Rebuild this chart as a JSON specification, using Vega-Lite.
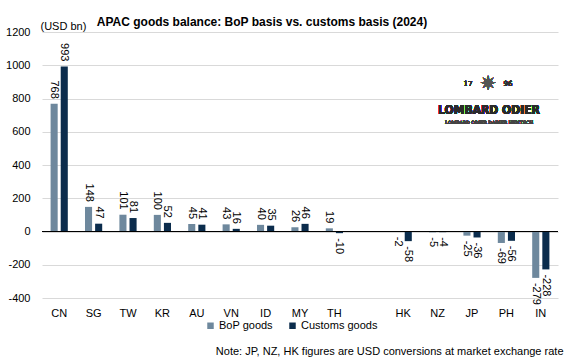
{
  "$schema": "https://vega.github.io/schema/vega-lite/v6.json",
  "width": 516,
  "height": 266,
  "autosize": {"type": "none"},
  "padding": {"left": 42, "top": 32, "right": 10, "bottom": 66},
  "background": "white",
  "title": {
    "text": "APAC goods balance: BoP basis vs. customs basis (2024)",
    "font": "Liberation Sans",
    "fontSize": 12,
    "fontWeight": "bold",
    "color": "black",
    "anchor": "middle",
    "frame": "group",
    "dx": -38,
    "offset": -18,
    "baseline": "alphabetic"
  },
  "config": {
    "view": {"stroke": null},
    "font": "Liberation Sans",
    "axis": {"labelColor": "black", "titleColor": "black", "labelFont": "Liberation Sans", "titleFont": "Liberation Sans"},
    "axisY": {"labelOverlap": false, "labelSeparation": 0},
    "legend": {"labelColor": "black", "labelFont": "Liberation Sans"}
  },
  "data": {
    "values": [
      {"country": "CN", "series": "BoP goods", "value": 768},
      {"country": "CN", "series": "Customs goods", "value": 993},
      {"country": "SG", "series": "BoP goods", "value": 148},
      {"country": "SG", "series": "Customs goods", "value": 47},
      {"country": "TW", "series": "BoP goods", "value": 101},
      {"country": "TW", "series": "Customs goods", "value": 81},
      {"country": "KR", "series": "BoP goods", "value": 100},
      {"country": "KR", "series": "Customs goods", "value": 52},
      {"country": "AU", "series": "BoP goods", "value": 45},
      {"country": "AU", "series": "Customs goods", "value": 41},
      {"country": "VN", "series": "BoP goods", "value": 43},
      {"country": "VN", "series": "Customs goods", "value": 16},
      {"country": "ID", "series": "BoP goods", "value": 40},
      {"country": "ID", "series": "Customs goods", "value": 35},
      {"country": "MY", "series": "BoP goods", "value": 26},
      {"country": "MY", "series": "Customs goods", "value": 46},
      {"country": "TH", "series": "BoP goods", "value": 19},
      {"country": "TH", "series": "Customs goods", "value": -10},
      {"country": "HK", "series": "BoP goods", "value": -2},
      {"country": "HK", "series": "Customs goods", "value": -58},
      {"country": "NZ", "series": "BoP goods", "value": -5},
      {"country": "NZ", "series": "Customs goods", "value": -4},
      {"country": "JP", "series": "BoP goods", "value": -25},
      {"country": "JP", "series": "Customs goods", "value": -36},
      {"country": "PH", "series": "BoP goods", "value": -69},
      {"country": "PH", "series": "Customs goods", "value": -56},
      {"country": "IN", "series": "BoP goods", "value": -279},
      {"country": "IN", "series": "Customs goods", "value": -228}
    ]
  },
  "encoding": {
    "y": {
      "field": "value",
      "type": "quantitative",
      "scale": {"domain": [-400, 1200], "nice": false, "zero": false},
      "axis": {
        "values": [-400, -200, 0, 200, 400, 600, 800, 1000, 1200],
        "labelExpr": "'' + datum.value",
        "labelOverlap": false,
        "domain": false,
        "ticks": false,
        "labelPadding": 12,
        "labelFontSize": 11,
        "gridColor": "#d9d9d9",
        "title": "(USD bn)",
        "titleAngle": 0,
        "titleAlign": "left",
        "titleBaseline": "alphabetic",
        "titleX": -2,
        "titleY": -3,
        "titleFontWeight": "normal",
        "titleFontSize": 11
      }
    }
  },
  "layer": [
    {
      "mark": {"type": "bar"},
      "encoding": {
        "x": {
          "field": "country",
          "type": "nominal",
          "scale": {"domain": ["CN", "SG", "TW", "KR", "AU", "VN", "ID", "MY", "TH", " ", "HK", "NZ", "JP", "PH", "IN"], "paddingInner": 0.5, "paddingOuter": 0.25},
          "axis": {
            "domain": false,
            "ticks": false,
            "grid": false,
            "labelAngle": 0,
            "labelPadding": 9,
            "labelFontSize": 11,
            "title": "Note: JP, NZ, HK figures are USD conversions at market exchange rate",
            "titleFontWeight": "normal",
            "titleFontSize": 11,
            "titleAlign": "right",
            "titleX": 521,
            "titleY": 53,
            "titleBaseline": "middle"
          }
        },
        "xOffset": {"field": "series", "type": "nominal", "scale": {"domain": ["BoP goods", "Customs goods"], "paddingInner": 0.3, "paddingOuter": 0}},
        "color": {
          "field": "series",
          "type": "nominal",
          "scale": {"domain": ["BoP goods", "Customs goods"], "range": ["#6e889d", "#0b2c4c"]},
          "legend": {
            "title": null,
            "orient": "none",
            "legendX": 163,
            "legendY": 288,
            "direction": "horizontal",
            "symbolType": "square",
            "symbolSize": 42,
            "symbolStrokeWidth": 0,
            "labelFontSize": 11,
            "labelOffset": 3,
            "columnPadding": 14,
            "padding": 0
          }
        }
      }
    },
    {
      "mark": {"type": "rule", "color": "black", "strokeWidth": 1.2},
      "encoding": {"y": {"datum": 0, "type": "quantitative"}}
    },
    {
      "transform": [{"filter": "datum.value >= 0"}],
      "mark": {"type": "text", "angle": 90, "align": "right", "baseline": "middle", "dx": -5, "fontSize": 11, "color": "black"},
      "encoding": {
        "x": {"field": "country", "type": "nominal"},
        "xOffset": {"field": "series", "type": "nominal"},
        "text": {"field": "value", "type": "nominal"}
      }
    },
    {
      "transform": [{"filter": "datum.value < 0"}],
      "mark": {"type": "text", "angle": 90, "align": "left", "baseline": "middle", "dx": 5, "fontSize": 11, "color": "black"},
      "encoding": {
        "x": {"field": "country", "type": "nominal"},
        "xOffset": {"field": "series", "type": "nominal"},
        "text": {"field": "value", "type": "nominal"}
      }
    },
    {
      "mark": {"type": "text", "text": "17", "font": "DejaVu Serif", "fontSize": 7, "color": "#333333", "dx": -4, "baseline": "middle"},
      "encoding": {"x": {"datum": "JP", "type": "nominal"}, "y": {"datum": 885, "type": "quantitative"}}
    },
    {
      "mark": {"type": "text", "text": "96", "font": "DejaVu Serif", "fontSize": 7, "color": "#333333", "dx": 36, "baseline": "middle"},
      "encoding": {"x": {"datum": "JP", "type": "nominal"}, "y": {"datum": 885, "type": "quantitative"}}
    },
    {
      "mark": {"type": "text", "text": "✷", "font": "DejaVu Sans", "fontSize": 20, "color": "#555555", "dx": 16, "baseline": "middle"},
      "encoding": {"x": {"datum": "JP", "type": "nominal"}, "y": {"datum": 887, "type": "quantitative"}}
    },
    {
      "mark": {"type": "text", "text": "LOMBARD ODIER", "font": "DejaVu Sans Condensed", "fontSize": 12, "fontWeight": "bold", "color": "#2b2b2b", "dx": 17, "baseline": "middle"},
      "encoding": {"x": {"datum": "JP", "type": "nominal"}, "y": {"datum": 728, "type": "quantitative"}}
    },
    {
      "mark": {"type": "text", "text": "LOMBARD ODIER DARIER HENTSCH", "font": "DejaVu Serif", "fontSize": 4.5, "color": "#444444", "dx": 17, "baseline": "middle"},
      "encoding": {"x": {"datum": "JP", "type": "nominal"}, "y": {"datum": 650, "type": "quantitative"}}
    }
  ]
}
